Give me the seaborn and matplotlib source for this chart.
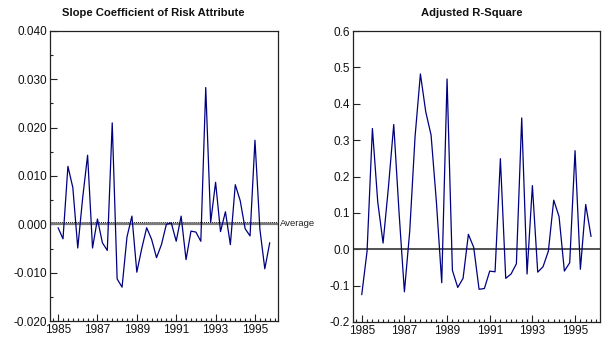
import numpy as np
import pandas as pd
import matplotlib
matplotlib.use("Agg")
import matplotlib.pyplot as plt
from matplotlib.ticker import MultipleLocator
import seaborn as sns

# Quarterly observations 1985Q1 .. 1995Q4
quarters = [1985 + q / 4 for q in range(44)]

slope = [-0.0007, -0.0030, 0.0120, 0.0076, -0.0049, 0.0055, 0.0143, -0.0049,
         0.0011, -0.0038, -0.0054, 0.0210, -0.0113, -0.0130, -0.0026, 0.0017,
         -0.0099, -0.0050, -0.0007, -0.0031, -0.0069, -0.0042, 0.0000, 0.0003,
         -0.0035, 0.0017, -0.0073, -0.0014, -0.0016, -0.0035, 0.0283, 0.0004,
         0.0087, -0.0015, 0.0026, -0.0042, 0.0082, 0.0049, -0.0009, -0.0024,
         0.0174, -0.0010, -0.0092, -0.0038]

adj_r2 = [-0.125, -0.005, 0.332, 0.130, 0.017, 0.170, 0.343, 0.100,
          -0.117, 0.050, 0.310, 0.482, 0.378, 0.314, 0.130, -0.092,
          0.468, -0.058, -0.105, -0.080, 0.041, 0.005, -0.110, -0.108,
          -0.060, -0.062, 0.249, -0.080, -0.068, -0.040, 0.361, -0.068,
          0.175, -0.063, -0.048, -0.005, 0.135, 0.090, -0.060, -0.037,
          0.271, -0.055, 0.123, 0.035]

year_ticks = [1985, 1987, 1989, 1991, 1993, 1995]
titles = ["Slope Coefficient of Risk Attribute", "Adjusted R-Square"]
average_level = 0.0005  # dotted "Average" line

df = pd.DataFrame({"quarter": quarters, "slope": slope, "adj_r2": adj_r2})

sns.set_style("white")
plt.rcParams["font.family"] = ["Liberation Sans", "DejaVu Sans"]

W, H = 605, 339
fig = plt.figure(figsize=(W / 100, H / 100), dpi=100)

def box(l, t, r, b):
    return [l / W, 1 - b / H, (r - l) / W, (b - t) / H]

ax1 = fig.add_axes(box(50, 31, 278, 321))
ax2 = fig.add_axes(box(353, 31, 600, 322))

line_color = "#000080"

sns.lineplot(data=df, x="quarter", y="slope", ax=ax1, color=line_color, lw=0.9)
sns.lineplot(data=df, x="quarter", y="adj_r2", ax=ax2, color=line_color, lw=0.9)

ax1.axhline(0, color="#7a7a7a", lw=1.6, zorder=1)
ax1.axhline(average_level, color="#111111", lw=0.7, ls=(0, (1, 1)), zorder=1)
ax1.text(1.008, (average_level - (-0.02)) / 0.06 - 0.004, "Average",
         transform=ax1.transAxes, fontsize=6.8, va="center", ha="left",
         color="#222222")
ax2.axhline(0, color="#444444", lw=1.3, zorder=1)

ax1.set_ylim(-0.02, 0.04)
ax1.yaxis.set_major_locator(MultipleLocator(0.01))
ax1.yaxis.set_minor_locator(MultipleLocator(0.005))
ax1.set_yticklabels([f"{v:.3f}" for v in ax1.get_yticks()])
ax2.set_ylim(-0.2, 0.6)
ax2.yaxis.set_major_locator(MultipleLocator(0.1))
ax2.set_yticklabels([f"{v:.1f}" for v in ax2.get_yticks()])

for ax, title, cx in zip((ax1, ax2), titles, (153, 472)):
    ax.set_xlim(1984.59, 1996.17)
    ax.set_xticks(year_ticks)
    ax.set_xticklabels([str(y) for y in year_ticks])
    ax.xaxis.set_minor_locator(MultipleLocator(0.25))
    ax.set_xlabel("")
    ax.set_ylabel("")
    ax.tick_params(axis="both", which="major", direction="in", length=5,
                   width=0.8, labelsize=8.5, color="#222222", labelcolor="#111111", pad=2)
    ax.tick_params(axis="both", which="minor", direction="in", length=2.5,
                   width=0.8, color="#222222")
    ax.tick_params(axis="x", which="both", bottom=True)
    ax.tick_params(axis="y", which="both", left=True)
    for s in ax.spines.values():
        s.set_visible(True)
        s.set_color("#222222")
        s.set_linewidth(0.9)
    fig.text(cx / W, 1 - 13.5 / H, title, ha="center", va="center",
             fontsize=8.1, fontweight="bold", color="#111111")

fig.savefig("out.png", dpi=100)
